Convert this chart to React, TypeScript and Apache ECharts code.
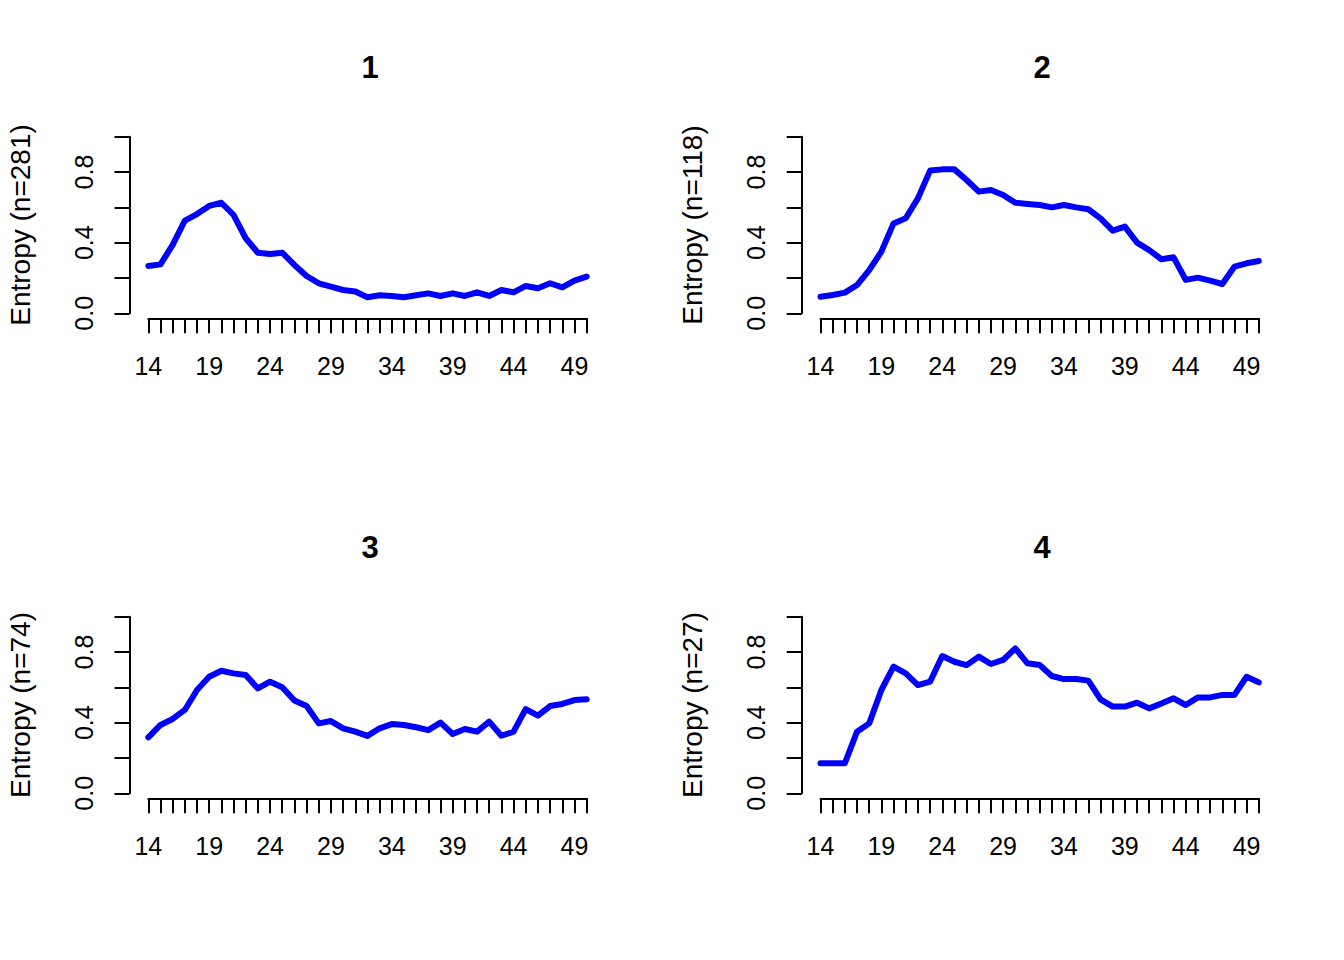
import React, { useEffect, useRef } from "react";
import * as echarts from "echarts";

const ages = [14,15,16,17,18,19,20,21,22,23,24,25,26,27,28,29,30,31,32,33,34,35,36,37,38,39,40,41,42,43,44,45,46,47,48,49,50];

const entropy1 = [0.268,0.277,0.387,0.525,0.562,0.608,0.626,0.557,0.425,0.343,0.336,0.343,0.274,0.211,0.170,0.151,0.132,0.123,0.091,0.102,0.098,0.091,0.102,0.113,0.098,0.113,0.098,0.119,0.098,0.132,0.119,0.155,0.142,0.170,0.147,0.185,0.208];
const entropy2 = [0.094,0.104,0.117,0.160,0.245,0.349,0.509,0.538,0.651,0.808,0.815,0.815,0.755,0.689,0.698,0.670,0.626,0.619,0.613,0.600,0.613,0.600,0.589,0.538,0.468,0.491,0.400,0.358,0.306,0.317,0.189,0.202,0.185,0.166,0.264,0.283,0.296];
const entropy3 = [0.317,0.387,0.421,0.472,0.585,0.660,0.694,0.679,0.670,0.594,0.632,0.600,0.525,0.494,0.396,0.409,0.368,0.349,0.325,0.368,0.392,0.387,0.374,0.358,0.400,0.336,0.364,0.349,0.406,0.326,0.349,0.477,0.440,0.494,0.506,0.528,0.532];
const entropy4 = [0.170,0.170,0.170,0.349,0.396,0.585,0.717,0.679,0.613,0.632,0.777,0.745,0.726,0.774,0.732,0.755,0.821,0.736,0.726,0.664,0.647,0.647,0.638,0.532,0.491,0.491,0.513,0.481,0.509,0.538,0.500,0.543,0.543,0.557,0.557,0.660,0.628];

const panelTitles = ["1", "2", "3", "4"];
const yLabels = ["Entropy (n=281)", "Entropy (n=118)", "Entropy (n=74)", "Entropy (n=27)"];
const seriesValues = [entropy1, entropy2, entropy3, entropy4];

const FONT = "'Liberation Sans', Arial, Helvetica, sans-serif";

export default function App() {
  const ref = useRef<HTMLDivElement>(null);
  useEffect(() => {
    if (!ref.current) return;
    const chart = echarts.init(ref.current, null, { renderer: "svg" });
    const colLeft = [148.3, 820.5];
    const rowTop = [136.7, 616.7];
    const gw = 438.3;
    const gh = 176.6;
    const grids: any[] = [];
    const xAxes: any[] = [];
    const yAxes: any[] = [];
    const series: any[] = [];
    const graphics: any[] = [];
    for (let i = 0; i < 4; i++) {
      const c = i % 2;
      const r = Math.floor(i / 2);
      const left = colLeft[c];
      const top = rowTop[r];
      grids.push({ left, top, width: gw, height: gh, containLabel: false });
      xAxes.push({
        type: "value",
        gridIndex: i,
        min: 14,
        max: 50,
        interval: 1,
        offset: 5,
        splitLine: { show: false },
        axisLine: { show: true, onZero: false, lineStyle: { color: "#000", width: 2 } },
        axisTick: { show: true, length: 15, lineStyle: { color: "#000", width: 2 } },
        axisLabel: {
          show: true,
          margin: 35,
          color: "#000",
          fontSize: 25,
          fontFamily: FONT,
          formatter: (v: number) => ((Math.round(v) - 14) % 5 === 0 ? String(Math.round(v)) : ""),
        },
      });
      yAxes.push({
        type: "value",
        gridIndex: i,
        min: 0,
        max: 1,
        interval: 0.2,
        offset: 18.8,
        splitLine: { show: false },
        axisLine: { show: true, onZero: false, lineStyle: { color: "#000", width: 2 } },
        axisTick: { show: true, length: 15, lineStyle: { color: "#000", width: 2 } },
        axisLabel: {
          show: true,
          rotate: 90,
          margin: 33,
          color: "#000",
          fontSize: 25,
          fontFamily: FONT,
          formatter: (v: number) => {
            const k = Math.round(v * 10);
            return k % 4 === 0 ? (k / 10).toFixed(1) : "";
          },
        },
      });
      series.push({
        type: "line",
        xAxisIndex: i,
        yAxisIndex: i,
        data: ages.map((a, j) => [a, seriesValues[i][j]]),
        showSymbol: false,
        symbol: "none",
        lineStyle: { color: "#0000FF", width: 6, cap: "round", join: "round" },
        itemStyle: { color: "#0000FF" },
      });
      graphics.push({
        type: "text",
        x: left - 148.3 + 370,
        y: top - 136.7 + 67,
        style: {
          text: panelTitles[i],
          fill: "#000",
          font: `bold 31px ${FONT}`,
          align: "center",
          verticalAlign: "middle",
        },
      });
      graphics.push({
        type: "text",
        x: left - 148.3 + 20,
        y: top - 136.7 + 225,
        rotation: Math.PI / 2,
        style: {
          text: yLabels[i],
          fill: "#000",
          font: `28px ${FONT}`,
          align: "center",
          verticalAlign: "middle",
        },
      });
    }
    chart.setOption({
      animation: false,
      backgroundColor: "#fff",
      grid: grids,
      xAxis: xAxes,
      yAxis: yAxes,
      series,
      graphic: graphics,
    });
    return () => chart.dispose();
  }, []);
  return (
    <div
      ref={ref}
      style={{ position: "fixed", left: 0, top: 0, width: 1344, height: 960, background: "#fff" }}
    />
  );
}
